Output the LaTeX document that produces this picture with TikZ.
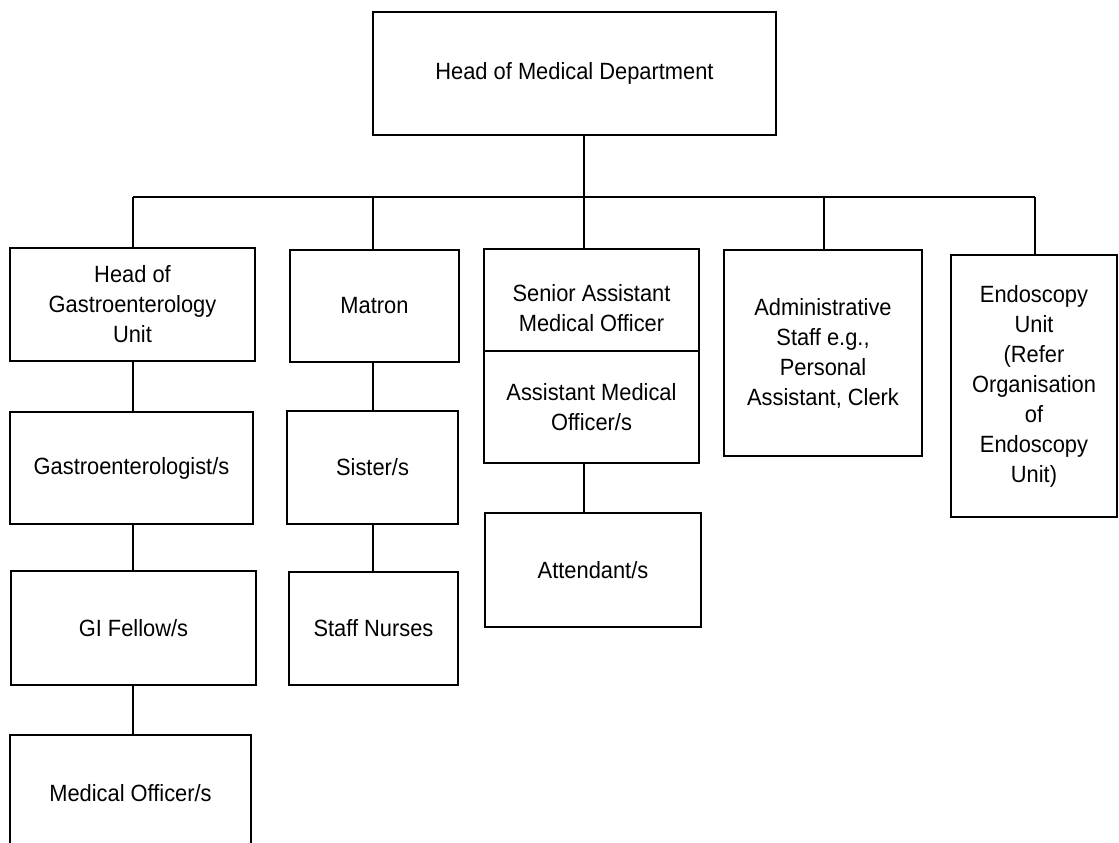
\documentclass[tikz,border=0pt]{standalone}
\usepackage{fontspec}
\setmainfont{Liberation Sans}[FakeStretch=0.93]
\begin{document}
\begin{tikzpicture}[x=1pt,y=-1pt,
  line width=1.6pt,
  boxfont/.style={font=\fontsize{23.5}{30}\selectfont},
  box/.style={draw=black, rectangle, inner sep=0pt, align=center, boxfont},
  link/.style={draw=black, line width=1.6pt}]
\clip (0,0) rectangle (1119,843);

% boxes: centre and size in pixels
\node[box, minimum width=403, minimum height=123] (top)     at (574.5, 73.5) {Head of Medical Department};

\node[box, minimum width=245, minimum height=113] (gihead)  at (132.5, 304.5) {Head of\\Gastroenterology\\Unit};
\node[box, minimum width=169, minimum height=112] (matron)  at (374.5, 306) {Matron};
\node[box, minimum width=215, minimum height=102,
      label={[boxfont, align=center, inner sep=0pt, yshift=-8pt]center:Senior Assistant\\Medical Officer}]
                                                    (senior)  at (591.5, 300) {};
\node[box, minimum width=215, minimum height=112] (amo)     at (591.5, 407) {Assistant Medical\\Officer/s};
\node[box, minimum width=198, minimum height=206] (admin)   at (823, 353) {Administrative\\Staff e.g.,\\Personal\\Assistant, Clerk};
\node[box, minimum width=166, minimum height=262] (endo)    at (1034, 386) {Endoscopy\\Unit\\(Refer\\Organisation\\of\\Endoscopy\\Unit)};

\node[box, minimum width=243, minimum height=112] (gastro)  at (131.5, 468) {Gastroenterologist/s};
\node[box, minimum width=171, minimum height=113] (sister)  at (372.5, 467.5) {Sister/s};
\node[box, minimum width=216, minimum height=114] (attend)  at (593, 570) {Attendant/s};

\node[box, minimum width=245, minimum height=114] (fellow)  at (133.5, 628) {GI Fellow/s};
\node[box, minimum width=169, minimum height=113] (nurses)  at (373.5, 628.5) {Staff Nurses};

\node[box, minimum width=241, minimum height=116] (medoff)  at (130.5, 793) {Medical Officer/s};

% horizontal bus under the head of department
\coordinate (hub)  at (584, 197);
\coordinate (busL) at (133, 197);
\coordinate (busR) at (1035, 197);
\coordinate (nurse) at (373, 197);
\coordinate (adm)  at (824, 197);
\draw[link] (top.south -| hub) -- (hub);
\draw[link] (busL) -- (busR);

% drops from the bus
\draw[link] (busL) -- (busL |- gihead.north);
\draw[link] (nurse) -- (nurse |- matron.north);
\draw[link] (hub) -- (hub |- senior.north);
\draw[link] (adm) -- (adm |- admin.north);
\draw[link] (busR) -- (busR |- endo.north);

% reporting lines within each unit
\draw[link] (busL |- gihead.south) -- (busL |- gastro.north);
\draw[link] (busL |- gastro.south) -- (busL |- fellow.north);
\draw[link] (busL |- fellow.south) -- (busL |- medoff.north);
\draw[link] (nurse |- matron.south) -- (nurse |- sister.north);
\draw[link] (nurse |- sister.south) -- (nurse |- nurses.north);
\draw[link] (hub |- amo.south) -- (hub |- attend.north);
\end{tikzpicture}
\end{document}
